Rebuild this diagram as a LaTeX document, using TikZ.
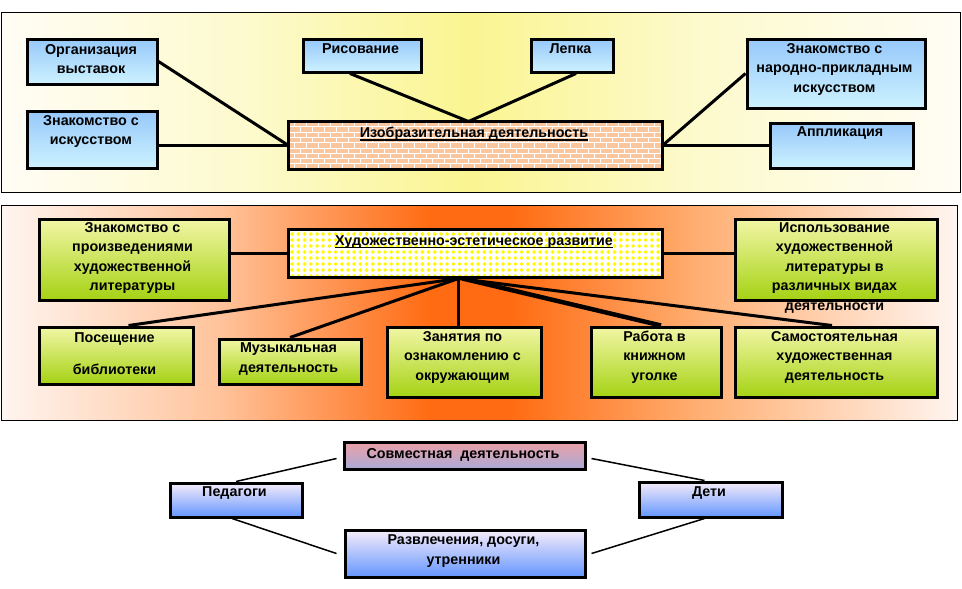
\documentclass[tikz,border=0pt]{standalone}
\usepackage{fontspec}
\setmainfont{Liberation Sans}
\usetikzlibrary{calc}
\definecolor{blueT}{RGB}{150,200,250}
\definecolor{blueB}{RGB}{205,242,255}
\definecolor{greenT}{RGB}{242,246,165}
\definecolor{greenB}{RGB}{165,210,20}
\definecolor{lavT}{RGB}{246,236,250}
\definecolor{lavB}{RGB}{100,150,255}
\definecolor{pinkT}{RGB}{236,160,166}
\definecolor{pinkB}{RGB}{170,170,215}
\definecolor{brickc}{RGB}{250,198,158}
\definecolor{dotY}{RGB}{255,250,0}
\definecolor{ty0}{RGB}{255,253,245}
\definecolor{ty1}{RGB}{253,250,205}
\definecolor{ty2}{RGB}{250,245,145}
\definecolor{ty3}{RGB}{255,253,245}
\definecolor{mo0}{RGB}{255,245,240}
\definecolor{mo1}{RGB}{255,195,155}
\definecolor{mo2}{RGB}{255,107,18}
\definecolor{mo3}{RGB}{255,175,115}
\definecolor{mo4}{RGB}{255,245,240}
\begin{document}
\begin{tikzpicture}[x=1pt,y=-1pt,
  txt/.style={font=\bfseries\fontsize{14.3}{19.5}\selectfont, align=center, inner sep=0pt},
  bbox/.style={draw=black, line width=3pt, inner sep=0pt, anchor=north west},
  bluebox/.style={bbox, top color=blueT, bottom color=blueB},
  greenbox/.style={bbox, top color=greenT, bottom color=greenB},
  lavbox/.style={bbox, top color=lavT, bottom color=lavB},
  pinkbox/.style={bbox, top color=pinkT, bottom color=pinkB},
  conn/.style={draw=black, line width=3pt},
  thinconn/.style={draw=black, line width=1.5pt},
  panel/.style={draw=black, line width=1pt},
  mortar/.style={draw=white, line width=1pt},
  ulline/.style={draw=black, line width=1.6pt}
]
\useasboundingbox (0,0) rectangle (962,589);
\fill[white] (0,0) rectangle (962,589);

% panels (piecewise gradients)
\shade[left color=ty0, right color=ty1] (1,12) rectangle (250.5,192);
\shade[left color=ty1, right color=ty2] (250,12) rectangle (470.5,192);
\shade[left color=ty2, right color=ty1] (470,12) rectangle (700.5,192);
\shade[left color=ty1, right color=ty3] (700,12) rectangle (960,192);
\draw[panel] (1,12) rectangle (960,192);

\shade[left color=mo0, right color=mo1] (1,205) rectangle (220.5,420);
\shade[left color=mo1, right color=mo2] (220,205) rectangle (430.5,420);
\fill[mo2] (430,205) rectangle (510.5,420);
\shade[left color=mo2, right color=mo3] (510,205) rectangle (700.5,420);
\shade[left color=mo3, right color=mo4] (700,205) rectangle (957,420);
\draw[panel] (1,205) rectangle (957,420);

% ---------- top boxes ----------
\node[bluebox, minimum width=130pt, minimum height=45pt] (org) at (25.5,37.5) {};
\node[bluebox, minimum width=130pt, minimum height=57pt] (zis) at (25.5,109.5) {};
\node[bluebox, minimum width=118pt, minimum height=33pt] (ris) at (301.5,37.5) {};
\node[bluebox, minimum width=82pt, minimum height=33pt] (lep) at (529.5,37.5) {};
\node[bluebox, minimum width=178pt, minimum height=69pt] (nar) at (745.5,37.5) {};
\node[bluebox, minimum width=143pt, minimum height=45pt] (app) at (768.5,121.5) {};
\node[bbox, draw=none, fill=brickc, minimum width=371pt, minimum height=45pt] (izo) at (288.5,121.5) {};
\begin{scope}
  \clip (izo.north west) rectangle (izo.south east);
  \foreach \r [evaluate=\r as \off using {mod(\r,2)*6}] in {0,...,9} {
    \draw[mortar] (280,121.5+\r*5.3) -- (670,121.5+\r*5.3);
    \foreach \c in {0,...,32}
      \draw[mortar] (282+\off+\c*12,121.5+\r*5.3) -- ++(0,5.3);
  }
\end{scope}
\draw[line width=3pt] (izo.north west) rectangle (izo.south east);

\node[txt] (torg) at (91,59) {Организация\\выставок};
\node[txt] (tzis) at (91,131.5) {Знакомство с\\искусством};
\node[txt] (tris) at (360.5,49) {Рисование};
\node[txt] (tlep) at (570.5,49) {Лепка};
\node[txt] (tnar) at (834.5,69) {Знакомство с\\народно-прикладным\\искусством};
\node[txt] (tapp) at (840,133) {Аппликация};
\node[txt] (tizo) at (474,134) {Изобразительная деятельность};
\draw[ulline] ([yshift=-2.2pt]tizo.base west) -- ([yshift=-2.2pt]tizo.base east);

% top connectors
\draw[conn] (org.east) -- (izo.west);
\draw[conn] (izo.west) -- (izo.west -| zis.east);
\coordinate (izotop) at ([xshift=-7pt]izo.north);
\draw[conn] ([xshift=-12pt]ris.south) -- (izotop);
\draw[conn] ([xshift=4pt]lep.south) -- (izotop);
\draw[conn] (izo.east) -- (nar.west);
\draw[conn] (izo.east) -- (app.west);

% ---------- middle boxes ----------
\node[greenbox, minimum width=190pt, minimum height=81pt] (zpr) at (37.5,217.5) {};
\node[bbox, draw=none, fill=white, minimum width=371pt, minimum height=45pt] (hud) at (288.5,229.5) {};
\begin{scope}
  \clip (hud.north west) rectangle (hud.south east);
  \foreach \i in {0,...,61}
    \foreach \j in {0,...,8}
      \fill[dotY] (286+\i*6.2,228+\j*6)
        ++(-2,0) -- ++(2,-2) -- ++(2,2) -- ++(-2,2) -- cycle;
\end{scope}
\draw[line width=3pt] (hud.north west) rectangle (hud.south east);
\node[greenbox, minimum width=202pt, minimum height=81pt] (isp) at (733.5,217.5) {};
\node[greenbox, minimum width=154pt, minimum height=57pt] (pos) at (37.5,325.5) {};
\node[greenbox, minimum width=142pt, minimum height=45pt] (muz) at (217.5,337.5) {};
\node[greenbox, minimum width=154pt, minimum height=70pt] (zan) at (385.5,325.5) {};
\node[greenbox, minimum width=130pt, minimum height=70pt] (rab) at (589.5,325.5) {};
\node[greenbox, minimum width=202pt, minimum height=70pt] (sam) at (733.5,325.5) {};

% middle connectors
\draw[conn] (hud.west) -- (hud.west -| zpr.east);
\draw[conn] (hud.east) -- (hud.east -| isp.west);
\coordinate (fan) at ([xshift=-17pt,yshift=-1pt]hud.south);
\draw[conn] (fan) -- ([xshift=12.5pt]pos.north);
\draw[conn] (fan) -- (muz.north);
\draw[conn] (fan) -- (fan |- zan.north);
\draw[draw=black, line width=4.5pt] ([xshift=4pt]fan) -- ([xshift=5pt]rab.north);
\draw[conn] (fan) -- ([xshift=-4pt]sam.north);

\node[txt] (tzpr) at (132.5,258) {Знакомство с\\произведениями\\художественной\\литературы};
\node[txt] (thud) at (474,242) {Художественно-эстетическое развитие};
\draw[ulline] ([yshift=-2.2pt]thud.base west) -- ([yshift=-2.2pt]thud.base east);
\node[txt] (tisp) at (834.5,268) {Использование\\художественной\\литературы в\\различных видах\\деятельности};
\node[txt] (tpos) at (114.5,353.5) {Посещение\\[13pt]библиотеки};
\node[txt] (tmuz) at (288.5,359) {Музыкальная\\деятельность};
\node[txt] (tzan) at (462.5,357) {Занятия по\\ознакомлению с\\окружающим};
\node[txt] (trab) at (654.5,357) {Работа в\\книжном\\уголке};
\node[txt] (tsam) at (834.5,357) {Самостоятельная\\художественная\\деятельность};

% ---------- bottom ----------
\node[pinkbox, minimum width=241pt, minimum height=27pt] (sov) at (342.5,440.5) {};
\node[lavbox, minimum width=132pt, minimum height=34pt] (ped) at (168.5,481.5) {};
\node[lavbox, minimum width=143pt, minimum height=35pt] (det) at (637.5,480.5) {};
\node[lavbox, minimum width=240pt, minimum height=47pt] (raz) at (343.5,528.5) {};

\draw[thinconn] (ped.north) -- ([shift={(-6,3)}]sov.west);
\draw[thinconn] ([xshift=-4pt]ped.south) -- ([xshift=-7pt]raz.west);
\draw[thinconn] ([shift={(5,3)}]sov.east) -- ([xshift=-6pt]det.north);
\draw[thinconn] ([xshift=5pt]raz.east) -- ([xshift=-6pt]det.south);

\node[txt] (tsov) at (463,455) {Совместная\ \ деятельность};
\node[txt] (tped) at (234.5,493) {Педагоги};
\node[txt] (tdet) at (709,493) {Дети};
\node[txt] (traz) at (463.5,551) {Развлечения, досуги,\\утренники};
\end{tikzpicture}
\end{document}
